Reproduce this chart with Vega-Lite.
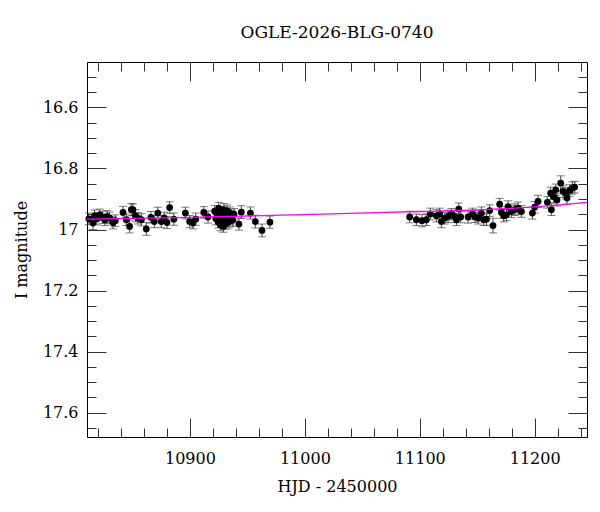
{
  "$schema": "https://vega.github.io/schema/vega-lite/v6.json",
  "width": 500,
  "height": 375,
  "autosize": "none",
  "padding": {"left": 87, "top": 62, "right": 13, "bottom": 75},
  "background": "white",
  "title": {
    "text": "OGLE-2026-BLG-0740",
    "font": "DejaVu Serif",
    "fontSize": 17,
    "fontWeight": "normal",
    "color": "black",
    "offset": 20
  },
  "datasets": {
    "obs": [
      {"hjd": 10812, "mag": 16.965, "err": 0.019},
      {"hjd": 10815.6, "mag": 16.979, "err": 0.021},
      {"hjd": 10817, "mag": 16.955, "err": 0.019},
      {"hjd": 10819, "mag": 16.965, "err": 0.02},
      {"hjd": 10821.5, "mag": 16.952, "err": 0.019},
      {"hjd": 10824, "mag": 16.96, "err": 0.02},
      {"hjd": 10826, "mag": 16.968, "err": 0.019},
      {"hjd": 10828, "mag": 16.958, "err": 0.02},
      {"hjd": 10830, "mag": 16.962, "err": 0.019},
      {"hjd": 10833, "mag": 16.978, "err": 0.02},
      {"hjd": 10835, "mag": 16.971, "err": 0.019},
      {"hjd": 10841.7, "mag": 16.944, "err": 0.02},
      {"hjd": 10844.6, "mag": 16.968, "err": 0.019},
      {"hjd": 10847.5, "mag": 16.99, "err": 0.021},
      {"hjd": 10849, "mag": 16.935, "err": 0.02},
      {"hjd": 10850.4, "mag": 16.935, "err": 0.019},
      {"hjd": 10852.5, "mag": 16.955, "err": 0.02},
      {"hjd": 10854.7, "mag": 16.963, "err": 0.019},
      {"hjd": 10857.7, "mag": 16.968, "err": 0.02},
      {"hjd": 10862, "mag": 16.998, "err": 0.021},
      {"hjd": 10866, "mag": 16.96, "err": 0.019},
      {"hjd": 10869, "mag": 16.974, "err": 0.02},
      {"hjd": 10872, "mag": 16.946, "err": 0.019},
      {"hjd": 10875, "mag": 16.974, "err": 0.02},
      {"hjd": 10877.5, "mag": 16.962, "err": 0.019},
      {"hjd": 10880, "mag": 16.977, "err": 0.02},
      {"hjd": 10882.3, "mag": 16.928, "err": 0.019},
      {"hjd": 10886, "mag": 16.966, "err": 0.02},
      {"hjd": 10896, "mag": 16.946, "err": 0.019},
      {"hjd": 10899.7, "mag": 16.974, "err": 0.02},
      {"hjd": 10902.6, "mag": 16.979, "err": 0.019},
      {"hjd": 10905, "mag": 16.966, "err": 0.02},
      {"hjd": 10912, "mag": 16.944, "err": 0.019},
      {"hjd": 10915.7, "mag": 16.959, "err": 0.02},
      {"hjd": 10921.5, "mag": 16.94, "err": 0.019},
      {"hjd": 10922.5, "mag": 16.965, "err": 0.02},
      {"hjd": 10923.5, "mag": 16.95, "err": 0.019},
      {"hjd": 10924.5, "mag": 16.975, "err": 0.02},
      {"hjd": 10925, "mag": 16.93, "err": 0.019},
      {"hjd": 10925.8, "mag": 16.96, "err": 0.02},
      {"hjd": 10926.5, "mag": 16.985, "err": 0.019},
      {"hjd": 10927, "mag": 16.945, "err": 0.02},
      {"hjd": 10927.8, "mag": 16.97, "err": 0.019},
      {"hjd": 10928.5, "mag": 16.955, "err": 0.02},
      {"hjd": 10929, "mag": 16.99, "err": 0.019},
      {"hjd": 10929.6, "mag": 16.935, "err": 0.02},
      {"hjd": 10930.3, "mag": 16.965, "err": 0.019},
      {"hjd": 10931, "mag": 16.95, "err": 0.02},
      {"hjd": 10931.7, "mag": 16.98, "err": 0.019},
      {"hjd": 10932.4, "mag": 16.94, "err": 0.02},
      {"hjd": 10933, "mag": 16.96, "err": 0.019},
      {"hjd": 10933.8, "mag": 16.975, "err": 0.02},
      {"hjd": 10934.5, "mag": 16.945, "err": 0.019},
      {"hjd": 10935.3, "mag": 16.965, "err": 0.02},
      {"hjd": 10936.2, "mag": 16.955, "err": 0.019},
      {"hjd": 10937.2, "mag": 16.97, "err": 0.02},
      {"hjd": 10938.3, "mag": 16.95, "err": 0.019},
      {"hjd": 10942.6, "mag": 16.982, "err": 0.02},
      {"hjd": 10944.7, "mag": 16.943, "err": 0.021},
      {"hjd": 10952.6, "mag": 16.946, "err": 0.02},
      {"hjd": 10956.9, "mag": 16.974, "err": 0.021},
      {"hjd": 10962.7, "mag": 17.003, "err": 0.021},
      {"hjd": 10969.6, "mag": 16.976, "err": 0.02},
      {"hjd": 11091.2, "mag": 16.959, "err": 0.019},
      {"hjd": 11097, "mag": 16.968, "err": 0.019},
      {"hjd": 11101.9, "mag": 16.971, "err": 0.02},
      {"hjd": 11105.7, "mag": 16.968, "err": 0.019},
      {"hjd": 11109.2, "mag": 16.949, "err": 0.019},
      {"hjd": 11114.4, "mag": 16.955, "err": 0.02},
      {"hjd": 11117.3, "mag": 16.949, "err": 0.019},
      {"hjd": 11118.8, "mag": 16.974, "err": 0.02},
      {"hjd": 11121.7, "mag": 16.963, "err": 0.019},
      {"hjd": 11124.6, "mag": 16.957, "err": 0.02},
      {"hjd": 11127.5, "mag": 16.95, "err": 0.019},
      {"hjd": 11130.4, "mag": 16.957, "err": 0.02},
      {"hjd": 11131.9, "mag": 16.968, "err": 0.019},
      {"hjd": 11133.9, "mag": 16.933, "err": 0.02},
      {"hjd": 11135.6, "mag": 16.959, "err": 0.019},
      {"hjd": 11142, "mag": 16.959, "err": 0.02},
      {"hjd": 11145.8, "mag": 16.949, "err": 0.019},
      {"hjd": 11147.8, "mag": 16.957, "err": 0.02},
      {"hjd": 11150.7, "mag": 16.963, "err": 0.019},
      {"hjd": 11153.6, "mag": 16.946, "err": 0.02},
      {"hjd": 11155.6, "mag": 16.968, "err": 0.019},
      {"hjd": 11158, "mag": 16.966, "err": 0.02},
      {"hjd": 11160.8, "mag": 16.938, "err": 0.019},
      {"hjd": 11163.7, "mag": 16.987, "err": 0.024},
      {"hjd": 11169.5, "mag": 16.917, "err": 0.019},
      {"hjd": 11171, "mag": 16.944, "err": 0.019},
      {"hjd": 11173, "mag": 16.955, "err": 0.02},
      {"hjd": 11175.4, "mag": 16.952, "err": 0.019},
      {"hjd": 11176.8, "mag": 16.925, "err": 0.019},
      {"hjd": 11179.7, "mag": 16.941, "err": 0.02},
      {"hjd": 11182.6, "mag": 16.935, "err": 0.019},
      {"hjd": 11185.5, "mag": 16.93, "err": 0.02},
      {"hjd": 11188.4, "mag": 16.941, "err": 0.019},
      {"hjd": 11198, "mag": 16.946, "err": 0.02},
      {"hjd": 11200, "mag": 16.927, "err": 0.019},
      {"hjd": 11202.9, "mag": 16.908, "err": 0.02},
      {"hjd": 11211, "mag": 16.911, "err": 0.019},
      {"hjd": 11213.9, "mag": 16.881, "err": 0.02},
      {"hjd": 11214.5, "mag": 16.935, "err": 0.019},
      {"hjd": 11216.5, "mag": 16.892, "err": 0.02},
      {"hjd": 11218.3, "mag": 16.87, "err": 0.019},
      {"hjd": 11219.4, "mag": 16.903, "err": 0.02},
      {"hjd": 11222.6, "mag": 16.848, "err": 0.024},
      {"hjd": 11224.6, "mag": 16.875, "err": 0.02},
      {"hjd": 11227, "mag": 16.881, "err": 0.019},
      {"hjd": 11228.1, "mag": 16.897, "err": 0.02},
      {"hjd": 11230.5, "mag": 16.872, "err": 0.019},
      {"hjd": 11232.8, "mag": 16.864, "err": 0.02},
      {"hjd": 11234.8, "mag": 16.861, "err": 0.019}
    ],
    "model": [
      {"hjd": 10810, "mag": 16.966},
      {"hjd": 10900, "mag": 16.96},
      {"hjd": 11000, "mag": 16.951},
      {"hjd": 11100, "mag": 16.941},
      {"hjd": 11150, "mag": 16.936},
      {"hjd": 11200, "mag": 16.926},
      {"hjd": 11220, "mag": 16.92},
      {"hjd": 11245.5, "mag": 16.911}
    ]
  },
  "layer": [
    {
      "data": {"name": "obs"},
      "mark": {
        "type": "errorbar",
        "color": "#444444",
        "thickness": 1,
        "ticks": {"size": 8, "color": "#444444"}
      },
      "encoding": {
        "x": {
          "field": "hjd",
          "type": "quantitative",
          "scale": {"domain": [10810.4, 11245.5], "nice": false, "zero": false},
          "axis": null
        },
        "y": {
          "field": "mag",
          "type": "quantitative",
          "scale": {"domain": [16.451, 17.68], "reverse": true, "nice": false, "zero": false},
          "axis": null
        },
        "yError": {"field": "err"}
      }
    },
    {
      "data": {"name": "obs"},
      "mark": {"type": "circle", "size": 46, "color": "black", "opacity": 1},
      "encoding": {
        "x": {
          "field": "hjd",
          "type": "quantitative",
          "scale": {"domain": [10810.4, 11245.5], "nice": false, "zero": false},
          "axis": {
            "orient": "bottom",
            "title": "HJD - 2450000",
            "values": [10820, 10840, 10860, 10880, 10900, 10920, 10940, 10960, 10980, 11000, 11020, 11040, 11060, 11080, 11100, 11120, 11140, 11160, 11180, 11200, 11220, 11240],
            "labelExpr": "datum.value % 100 == 0 ? '' + datum.value : ''",
            "tickSize": {"condition": {"test": "datum.value % 100 == 0", "value": -19}, "value": -9},
            "labelPadding": 32,
            "titlePadding": 12
          }
        },
        "y": {
          "field": "mag",
          "type": "quantitative",
          "scale": {"domain": [16.451, 17.68], "reverse": true, "nice": false, "zero": false},
          "axis": {
            "orient": "left",
            "title": "I magnitude",
            "values": [16.5, 16.55, 16.6, 16.65, 16.7, 16.75, 16.8, 16.85, 16.9, 16.95, 17, 17.05, 17.1, 17.15, 17.2, 17.25, 17.3, 17.35, 17.4, 17.45, 17.5, 17.55, 17.6, 17.65],
            "labelExpr": "abs(datum.value * 5 - round(datum.value * 5)) < 0.001 ? '' + datum.value : ''",
            "tickSize": {"condition": {"test": "abs(datum.value * 5 - round(datum.value * 5)) < 0.001", "value": -19}, "value": -9},
            "labelPadding": 28,
            "titlePadding": 13
          }
        }
      }
    },
    {
      "data": {"name": "model"},
      "mark": {"type": "line", "color": "#ff00ff", "strokeWidth": 1.3, "interpolate": "monotone"},
      "encoding": {
        "x": {
          "field": "hjd",
          "type": "quantitative",
          "axis": {
            "orient": "top",
            "title": null,
            "labels": false,
            "values": [10820, 10840, 10860, 10880, 10900, 10920, 10940, 10960, 10980, 11000, 11020, 11040, 11060, 11080, 11100, 11120, 11140, 11160, 11180, 11200, 11220, 11240],
            "tickSize": {"condition": {"test": "datum.value % 100 == 0", "value": -19}, "value": -9}
          }
        },
        "y": {
          "field": "mag",
          "type": "quantitative",
          "axis": {
            "orient": "right",
            "title": null,
            "labels": false,
            "values": [16.5, 16.55, 16.6, 16.65, 16.7, 16.75, 16.8, 16.85, 16.9, 16.95, 17, 17.05, 17.1, 17.15, 17.2, 17.25, 17.3, 17.35, 17.4, 17.45, 17.5, 17.55, 17.6, 17.65],
            "tickSize": {"condition": {"test": "abs(datum.value * 5 - round(datum.value * 5)) < 0.001", "value": -19}, "value": -9}
          }
        }
      }
    }
  ],
  "resolve": {"axis": {"x": "independent", "y": "independent"}},
  "config": {
    "font": "DejaVu Serif",
    "view": {"stroke": null},
    "axis": {
      "grid": false,
      "domainColor": "black",
      "domainWidth": 1,
      "tickColor": "#333333",
      "tickWidth": 1,
      "labelFont": "DejaVu Serif",
      "labelFontSize": 16,
      "labelColor": "black",
      "titleFont": "DejaVu Serif",
      "titleFontSize": 16,
      "titleFontWeight": "normal",
      "titleColor": "black"
    }
  }
}
